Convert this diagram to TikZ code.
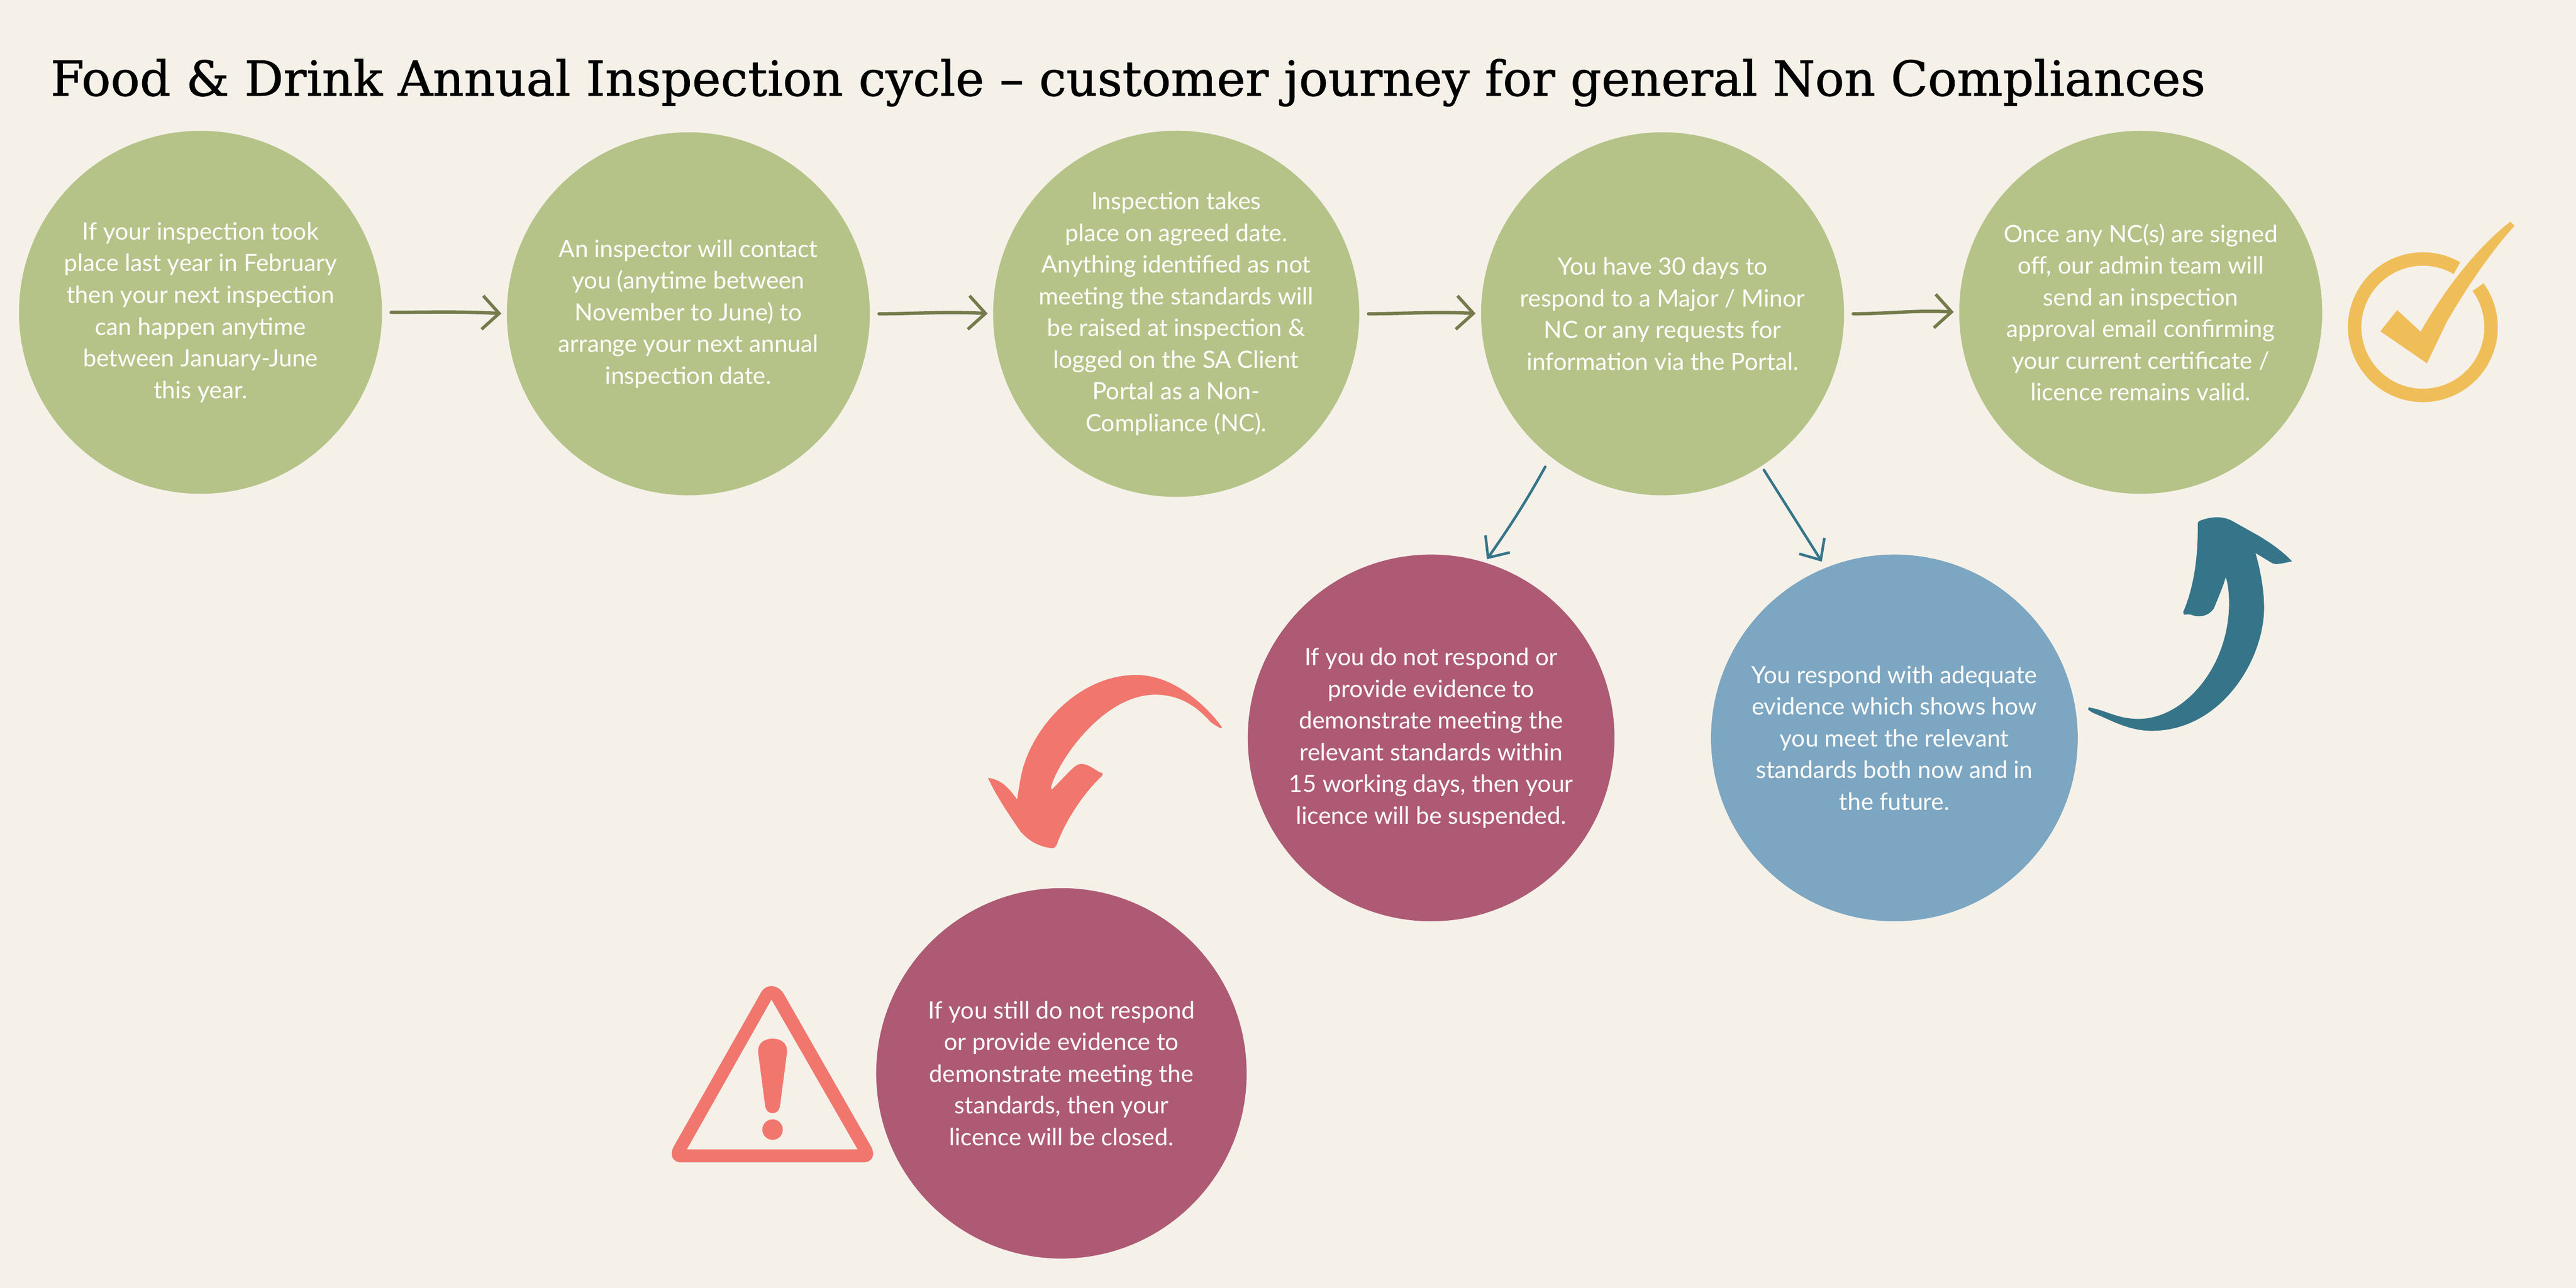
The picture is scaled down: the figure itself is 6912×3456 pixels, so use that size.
\documentclass[tikz,border=0pt]{standalone}
\usepackage{fontspec}
\setmainfont{Lato}
\newfontfamily\titlefont[FakeBold=1]{DejaVu Serif}
\usetikzlibrary{arrows.meta}
\definecolor{paper}{HTML}{F5F1E9}
\definecolor{sage}{HTML}{B5C388}
\definecolor{olive}{HTML}{757B4B}
\definecolor{plum}{HTML}{AE5A75}
\definecolor{sky}{HTML}{7CA6C1}
\definecolor{petrol}{HTML}{367589}
\definecolor{salmon}{HTML}{F1776E}
\definecolor{honey}{HTML}{F0BE59}
\tikzset{
  bubble/.style={circle, minimum size=97.4mm, inner sep=0pt, align=center, text=white,
    font=\fontsize{18.2}{24.2}\selectfont},
  journey/.style={olive, line width=0.9mm, line cap=round, out=0, in=177,
    -{Straight Barb[length=4.5mm, width=9mm, line width=0.85mm]}, shorten <=2.4mm, shorten >=1.4mm},
  branch/.style={petrol, line width=0.7mm, line cap=round,
    -{Straight Barb[length=4.5mm, width=8mm, line width=0.7mm]}}
}
\begin{document}
\begin{tikzpicture}[x=0.1mm, y=-0.1mm]

\fill[paper] (0,0) rectangle (6912,3456);
\useasboundingbox (0,0) rectangle (6912,3456);

% Title
\node[anchor=west, inner sep=0pt, font=\titlefont\fontsize{36.95}{44}\selectfont] (title) at (135,222)
  {Food \& Drink Annual Inspection cycle – customer journey for general Non Compliances};

% Top row
\node[bubble, fill=sage] (g1) at (538,838) {If your inspection took\\place last year in February\\then your next inspection\\can happen anytime\\between January-June\\this year.};
\node[bubble, fill=sage] (g2) at (1847,842) {An inspector will contact\\you (anytime between\\November to June) to\\arrange your next annual\\inspection date.};
\node[bubble, fill=sage] (g3) at (3156,842) {Inspection takes\\place on agreed date.\\Anything identified as not\\meeting the standards will\\be raised at inspection \&\\logged on the SA Client\\Portal as a Non-\\Compliance (NC).};
\node[bubble, fill=sage] (g4) at (4461,842) {You have 30 days to\\respond to a Major / Minor\\NC or any requests for\\information via the Portal.};
\node[bubble, fill=sage] (g5) at (5744,838) {Once any NC(s) are signed\\off, our admin team will\\send an inspection\\approval email confirming\\your current certificate /\\licence remains valid.};

% Lower circles
\node[bubble, fill=plum, minimum size=98.4mm] (p1) at (3840,1980) {If you do not respond or\\provide evidence to\\demonstrate meeting the\\relevant standards within\\15 working days, then your\\licence will be suspended.};
\node[bubble, fill=sky, minimum size=98.4mm] (b1) at (5083,1980) {You respond with adequate\\evidence which shows how\\you meet the relevant\\standards both now and in\\the future.};
\node[bubble, fill=plum, minimum size=99.4mm] (p2) at (2848,2880) {If you still do not respond\\or provide evidence to\\demonstrate meeting the\\standards, then your\\licence will be closed.};

% Arrows along the top
\draw[journey] (g1.-0.4) to (g2.180.8);
\draw[journey] (g2.0) to (g3.180.8);
\draw[journey] (g3.0) to (g4.180.8);
\draw[journey] (g4.0) to (g5.180.8);

% Arrows to the lower circles
\draw[branch, shorten <=3mm, shorten >=1mm] (g4.232) to[bend left=3] (p1.73);
\draw[branch, shorten <=1.2mm, shorten >=1.9mm] (g4.-57) -- (b1.112);

% Salmon arrow
\fill[salmon] (3279,1952) .. controls (3265,1930) and (3170,1811) .. (3049,1811)
  .. controls (2890,1811) and (2760,1960) .. (2738,2091) -- (2729,2145)
  .. controls (2710,2119) and (2690,2092) .. (2651,2087)
  .. controls (2670,2130) and (2700,2175) .. (2738,2231)
  .. controls (2760,2255) and (2785,2272) .. (2824,2276)
  .. controls (2830,2276) and (2835,2270) .. (2838,2260)
  .. controls (2860,2200) and (2910,2125) .. (2957,2082) -- (2959,2075)
  .. controls (2940,2070) and (2925,2050) .. (2901,2050)
  .. controls (2885,2050) and (2875,2065) .. (2822,2119) -- (2820,2112)
  .. controls (2840,2040) and (2960,1864) .. (3100,1864)
  .. controls (3170,1864) and (3215,1900) .. (3248,1937)
  .. controls (3258,1945) and (3268,1950) .. (3274,1954) -- cycle;

% Petrol arrow
\fill[petrol] (5604,1898) .. controls (5650,1905) and (5680,1929) .. (5738,1929)
  .. controls (5860,1929) and (5981,1790) .. (5981,1618)
  .. controls (5981,1590) and (5978,1565) .. (5972,1549)
  .. controls (5965,1575) and (5945,1620) .. (5941,1631)
  .. controls (5930,1650) and (5905,1660) .. (5878,1649)
  .. controls (5870,1648) and (5865,1649) .. (5860,1649) -- (5858,1642)
  .. controls (5885,1580) and (5898,1500) .. (5897,1408)
  .. controls (5897,1400) and (5900,1398) .. (5903,1397)
  .. controls (5935,1385) and (5965,1385) .. (5988,1397) -- (6063,1439)
  .. controls (6100,1462) and (6125,1480) .. (6150,1506)
  .. controls (6115,1514) and (6105,1516) .. (6095,1510) -- (6052,1484)
  .. controls (6068,1540) and (6075,1590) .. (6075,1631)
  .. controls (6075,1770) and (5960,1961) .. (5773,1961)
  .. controls (5710,1961) and (5660,1930) .. (5621,1915)
  .. controls (5612,1911) and (5608,1908) .. (5603,1904) -- cycle;

% Tick mark
\coordinate (tick) at (6501,878);
\draw[honey, line width=3.6mm] ([shift={(60:18.3mm)}]tick) arc[start angle=60, end angle=396, radius=18.3mm];
\fill[honey] (6736,595) -- (6747,606) .. controls (6686,673) and (6621,767) .. (6564,866) -- (6512,975) -- (6387,889) -- (6432,832) -- (6495,890) .. controls (6560,775) and (6650,660) .. (6736,595) -- cycle;

% Warning sign
\fill[salmon, even odd rule] (2042,2663) .. controls (2055,2640) and (2085,2640) .. (2102,2665) -- (2337,3076) .. controls (2350,3100) and (2340,3119) .. (2316,3119) -- (1829,3119) .. controls (1805,3119) and (1795,3100) .. (1808,3076) -- cycle
  (2070,2682) -- (2301,3084) -- (1843,3084) -- cycle;
\fill[salmon] (2034,2822) .. controls (2034,2795) and (2055,2787) .. (2073,2787) .. controls (2091,2787) and (2112,2795) .. (2112,2822) -- (2093,2967) .. controls (2091,2980) and (2083,2987) .. (2073,2987) .. controls (2063,2987) and (2055,2980) .. (2053,2967) -- cycle;
\fill[salmon] (2073,3031) circle[radius=2.75mm];

\end{tikzpicture}
\end{document}
